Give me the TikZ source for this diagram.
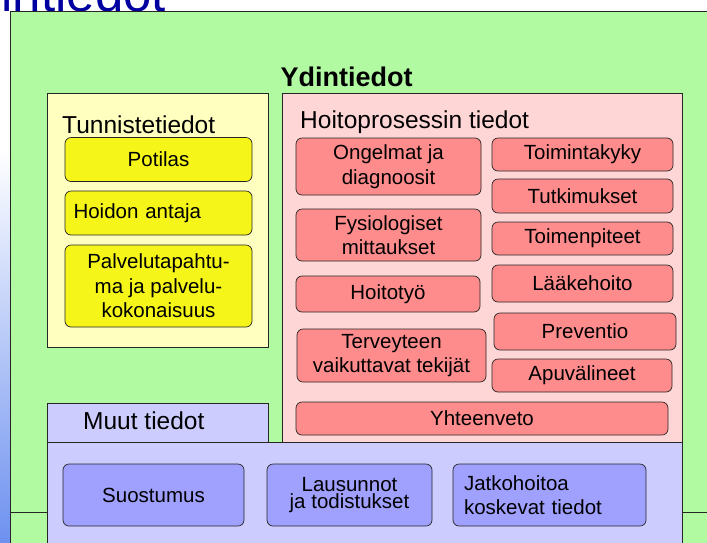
\documentclass[tikz,border=0pt]{standalone}
\usepackage{fontspec}
\setmainfont{Liberation Sans}
\definecolor{slidegreen}{RGB}{178,250,162}
\definecolor{paleyellow}{RGB}{255,255,192}
\definecolor{boxyellow}{RGB}{245,245,25}
\definecolor{palepink}{RGB}{255,214,214}
\definecolor{boxred}{RGB}{255,140,140}
\definecolor{palelilac}{RGB}{204,204,255}
\definecolor{boxlilac}{RGB}{160,160,255}
\definecolor{titleblue}{RGB}{0,0,160}
\definecolor{edgeblue}{RGB}{110,145,240}
\begin{document}
\begin{tikzpicture}[x=1pt, y=-1pt,
        panel/.style={draw=black!85, line width=0.7pt, inner sep=0pt},
        item/.style={draw=black!85, line width=0.7pt, rounded corners=6pt, inner sep=0pt, align=center, font=\fontsize{20.5}{24.5}\selectfont},
        yellowbox/.style={item, fill=boxyellow},
        redbox/.style={item, fill=boxred},
        lilacbox/.style={item, fill=boxlilac},
        heading/.style={anchor=base west, inner sep=0pt, font=\fontsize{24.5}{28}\selectfont}
    ]
        \useasboundingbox (0,0) rectangle (707,542);
        \clip (0,0) rectangle (707,542);

        % Slide background
        \fill[white] (0,0) rectangle (707,542);
        \shade[top color=white, bottom color=edgeblue] (0,150) rectangle (10,542);
        \node[anchor=base west, inner sep=0pt, text=titleblue, font=\fontsize{51}{51}\selectfont] (slidetitle) at (-61,11) {Ydintiedot};

        % Panels (Absolute positioning)
        \node[panel, fill=slidegreen, minimum width=710, minimum height=501] (core) at (365,261.5) {};
        \node[panel, fill=slidegreen, minimum width=710, minimum height=58] (below) at (365,541) {};
        \node[panel, fill=paleyellow, minimum width=221, minimum height=254] (ident) at (157.5,220) {};
        \node[panel, fill=palepink, minimum width=400, minimum height=349] (care) at (482,267.5) {};
        \node[panel, fill=palelilac, minimum width=221, minimum height=39] (othertab) at (157.5,422.5) {};
        \node[panel, fill=palelilac, minimum width=635, minimum height=128] (other) at (364.5,506) {};

        % Headings
        \node[anchor=base, font=\bfseries\fontsize{27}{30}\selectfont] (coretitle) at (346.5,86) {Ydintiedot};
        \node[heading] (identtitle) at (62,133) {Tunnistetiedot};
        \node[heading] (caretitle) at (300,128) {Hoitoprosessin tiedot};
        \node[heading] (othertitle) at (83,429) {Muut tiedot};

        % Tunnistetiedot
        \node[yellowbox, minimum width=187, minimum height=44] (patient) at (158.5,159.5) {Potilas};
        \node[yellowbox, minimum width=187, minimum height=44, text width=170, align=left] (provider) at (158.5,213) {Hoidon antaja};
        \node[yellowbox, minimum width=187, minimum height=82] (service) at (158.5,286) {Palvelutapahtu-\\ma ja palvelu-\\kokonaisuus};

        % Hoitoprosessin tiedot, left column
        \node[redbox, minimum width=185, minimum height=57] (problems) at (388.5,166.5) {Ongelmat ja\\diagnoosit};
        \node[redbox, minimum width=185, minimum height=52] (physio) at (388.5,235) {Fysiologiset\\mittaukset};
        \node[redbox, minimum width=184, minimum height=36] (nursing) at (388,294) {Hoitotyö};
        \node[redbox, minimum width=189, minimum height=53] (factors) at (391.5,355.5) {Terveyteen\\vaikuttavat tekijät};

        % Hoitoprosessin tiedot, right column
        \node[redbox, minimum width=181, minimum height=33] (ability) at (582.5,154.5) {Toimintakyky};
        \node[redbox, minimum width=181, minimum height=34] (exams) at (582.5,196) {Tutkimukset};
        \node[redbox, minimum width=181, minimum height=33] (procedures) at (582.5,238.5) {Toimenpiteet};
        \node[redbox, minimum width=181, minimum height=37] (medication) at (582.5,283.5) {Lääkehoito};
        \node[redbox, minimum width=182, minimum height=37] (prevention) at (585,331.5) {Preventio};
        \node[redbox, minimum width=180, minimum height=33] (aids) at (582,375.5) {Apuvälineet};
        \node[redbox, minimum width=372, minimum height=33] (summary) at (482,418.5) {Yhteenveto};

        % Muut tiedot
        \node[lilacbox, minimum width=181, minimum height=62] (consent) at (153.5,495) {Suostumus};
        \node[lilacbox, minimum width=165, minimum height=62, font=\fontsize{20.5}{17}\selectfont] (statements) at (349.5,495) {Lausunnot\\ja todistukset};
        \node[lilacbox, minimum width=193, minimum height=62, text width=171, align=left] (followup) at (549.5,495) {Jatkohoitoa\\koskevat tiedot};

    \end{tikzpicture}
\end{document}
